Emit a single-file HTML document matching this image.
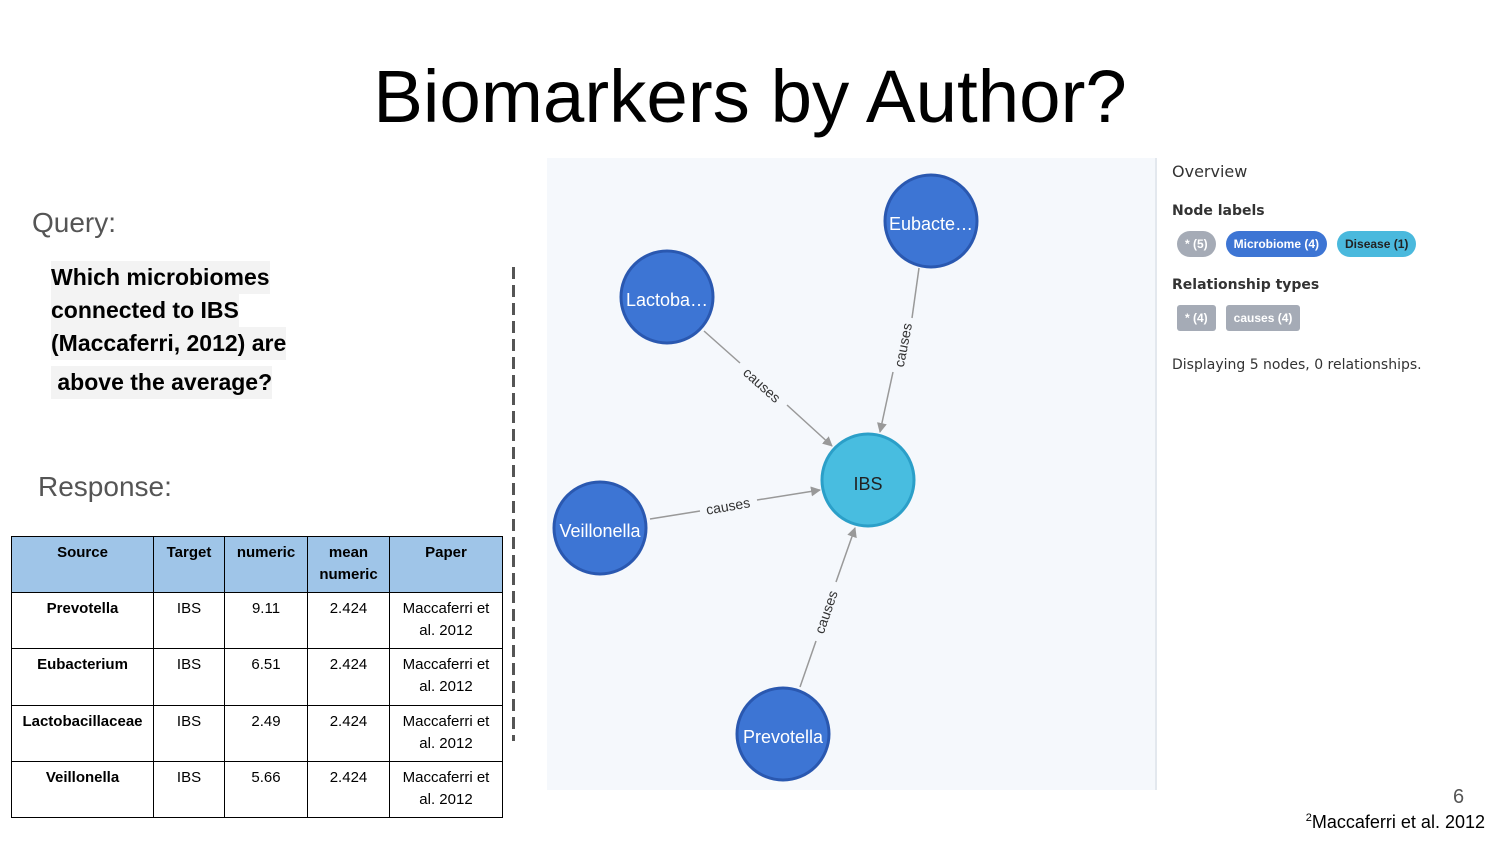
<!DOCTYPE html>
<html><head><meta charset="utf-8"><style>
body{margin:0;width:1500px;height:844px;background:#fff;font-family:"Liberation Sans",Arial,sans-serif;position:relative;overflow:hidden}
.abs{position:absolute}
table{border-collapse:collapse;position:absolute;left:11px;top:536px;font-size:15px;table-layout:fixed;width:491px}
td,th{border:1.5px solid #000;text-align:center;vertical-align:top;padding:5px 2px 0;line-height:22px;height:49px;box-sizing:border-box}
th{background:#9fc5e8}
tr{height:56.2px}
td.p{padding:5px 9px 0}
.q{font-weight:bold;font-size:23px;background:#f3f3f3;display:inline-block;line-height:33px}
.pill{display:inline-block;font-size:12px;font-weight:bold;color:#fff;padding:0 8px;height:26px;line-height:26px;margin-right:7px}
</style></head><body>
<div class="abs" style="left:0;width:1500px;top:54px;text-align:center;font-size:74.5px;color:#000">Biomarkers by Author?</div>
<div class="abs" style="left:32px;top:207px;font-size:28px;color:#555">Query:</div>
<div class="abs" style="left:51px;top:261px;width:300px">
<span class="q">Which microbiomes</span><br><span class="q">connected to IBS</span><br><span class="q">(Maccaferri, 2012) are</span><br><span class="q" style="margin-top:6px">&nbsp;above the average?</span></div>
<div class="abs" style="left:38px;top:471px;font-size:28px;color:#555">Response:</div>
<table>
<colgroup><col style="width:142px"><col style="width:71px"><col style="width:83px"><col style="width:82px"><col style="width:113px"></colgroup>
<tr><th>Source</th><th>Target</th><th>numeric</th><th>mean numeric</th><th>Paper</th></tr>
<tr><td><b>Prevotella</b></td><td>IBS</td><td>9.11</td><td>2.424</td><td class="p">Maccaferri et al. 2012</td></tr>
<tr><td><b>Eubacterium</b></td><td>IBS</td><td>6.51</td><td>2.424</td><td class="p">Maccaferri et al. 2012</td></tr>
<tr><td><b>Lactobacillaceae</b></td><td>IBS</td><td>2.49</td><td>2.424</td><td class="p">Maccaferri et al. 2012</td></tr>
<tr><td><b>Veillonella</b></td><td>IBS</td><td>5.66</td><td>2.424</td><td class="p">Maccaferri et al. 2012</td></tr>
</table>
<div class="abs" style="left:512px;top:267px;height:474px;width:3px;background:repeating-linear-gradient(to bottom,#555 0 12px,transparent 12px 18px)"></div>
<svg class="abs" style="left:547px;top:158px" width="610" height="632" viewBox="547 158 610 632">
<defs><marker id="ar" markerWidth="10" markerHeight="10" refX="9" refY="5" orient="auto" markerUnits="userSpaceOnUse"><path d="M0,0L10,5L0,10z" fill="#999"/></marker></defs>
<rect x="547" y="158" width="608" height="632" fill="#f5f8fc"/>
<line x1="1156" y1="158" x2="1156" y2="790" stroke="#e3e8ee" stroke-width="2"/>
<g stroke="#999" stroke-width="1.5" fill="none">
<line x1="704" y1="331" x2="740" y2="363"/><line x1="787" y1="405" x2="832" y2="446" marker-end="url(#ar)"/>
<line x1="919" y1="268" x2="912" y2="318"/><line x1="893" y1="372" x2="880" y2="432" marker-end="url(#ar)"/>
<line x1="650" y1="519" x2="700" y2="511"/><line x1="757" y1="500" x2="820" y2="490" marker-end="url(#ar)"/>
<line x1="800" y1="687" x2="816" y2="641"/><line x1="836" y1="582" x2="855" y2="528" marker-end="url(#ar)"/>
</g>
<g font-size="14" fill="#333" font-family="Liberation Sans,sans-serif" text-anchor="middle">
<text transform="translate(762,385) rotate(42)" dy="5">causes</text>
<text transform="translate(903,345) rotate(-79)" dy="5">causes</text>
<text transform="translate(728,506) rotate(-10)" dy="5">causes</text>
<text transform="translate(826,612) rotate(-71)" dy="5">causes</text>
</g>
<g font-size="18" fill="#fff" font-family="Liberation Sans,sans-serif" text-anchor="middle" stroke-width="3">
<circle cx="931" cy="221" r="46" fill="#3d75d4" stroke="#2a58b0"/><text x="931" y="230">Eubacte…</text>
<circle cx="667" cy="297" r="46" fill="#3d75d4" stroke="#2a58b0"/><text x="667" y="306">Lactoba…</text>
<circle cx="868" cy="480" r="46" fill="#48bde0" stroke="#2b9fc8"/><text x="868" y="490" fill="#222">IBS</text>
<circle cx="600" cy="528" r="46" fill="#3d75d4" stroke="#2a58b0"/><text x="600" y="537">Veillonella</text>
<circle cx="783" cy="734" r="46" fill="#3d75d4" stroke="#2a58b0"/><text x="783" y="743">Prevotella</text>
</g>
</svg>
<div class="abs" style="left:1172px;top:162px;font-family:'DejaVu Sans',sans-serif;color:#333">
<div style="font-size:16px">Overview</div>
<div style="font-size:14px;font-weight:bold;margin-top:22px">Node labels</div>
<div style="margin-top:12px;font-family:'Liberation Sans',sans-serif">
<span class="pill" style="background:#a5abb6;border-radius:13px;margin-left:5px">* (5)</span><span class="pill" style="background:#3d75d4;border-radius:13px;margin-left:3px">Microbiome (4)</span><span class="pill" style="background:#4ab9dd;color:#222;border-radius:13px;margin-left:3px">Disease (1)</span></div>
<div style="font-size:14px;font-weight:bold;margin-top:20px">Relationship types</div>
<div style="margin-top:12px;font-family:'Liberation Sans',sans-serif">
<span class="pill" style="background:#a5abb6;border-radius:3px;margin-left:5px">* (4)</span><span class="pill" style="background:#a5abb6;border-radius:3px;margin-left:3px">causes (4)</span></div>
<div style="font-size:14px;margin-top:26px">Displaying 5 nodes, 0 relationships.</div>
</div>
<div class="abs" style="left:1453px;top:786px;font-size:20px;color:#555">6</div>
<div class="abs" style="right:15px;top:812px;font-size:18px"><sup style="font-size:11px">2</sup>Maccaferri et al. 2012</div>
</body></html>
